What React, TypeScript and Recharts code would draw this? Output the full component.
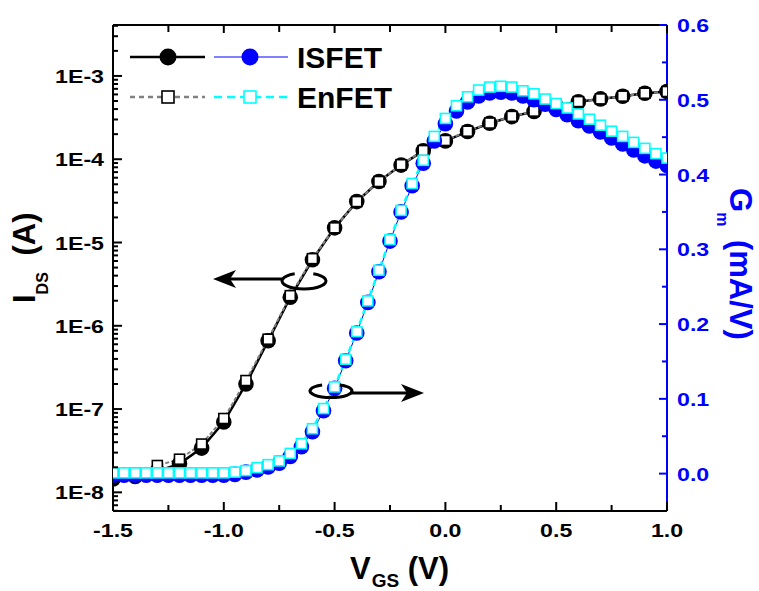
import React from 'react';
import { ComposedChart, Line, XAxis, YAxis } from 'recharts';

// I_DS sweep, 0.1 V step
const vgsIds = [
  -1.5, -1.4, -1.3, -1.2, -1.1, -1.0, -0.9, -0.8, -0.7, -0.6, -0.5, -0.4, -0.3,
  -0.2, -0.1, 0.0, 0.1, 0.2, 0.3, 0.4, 0.5, 0.6, 0.7, 0.8, 0.9, 1.0,
];
const idsIsfet = [
  1.45e-8, 1.55e-8, 1.8e-8, 2.2e-8, 3.4e-8, 7.0e-8, 2.0e-7, 6.6e-7, 2.2e-6, 6.2e-6,
  1.5e-5, 3.1e-5, 5.4e-5, 8.5e-5, 1.26e-4, 1.66e-4, 2.15e-4, 2.7e-4, 3.25e-4, 3.75e-4,
  4.35e-4, 4.9e-4, 5.3e-4, 5.7e-4, 6.2e-4, 6.5e-4,
];
const idsEnfet = [
  1.6e-8, 1.7e-8, 2.1e-8, 2.5e-8, 3.8e-8, 7.7e-8, 2.2e-7, 6.9e-7, 2.3e-6, 6.4e-6,
  1.5e-5, 3.1e-5, 5.4e-5, 8.6e-5, 1.27e-4, 1.68e-4, 2.17e-4, 2.72e-4, 3.27e-4, 3.78e-4,
  4.35e-4, 4.92e-4, 5.3e-4, 5.72e-4, 6.2e-4, 6.5e-4,
];

// Gm sweep, 0.05 V step
const vgsGm = [
  -1.5, -1.45, -1.4, -1.35, -1.3, -1.25, -1.2, -1.15, -1.1, -1.05, -1.0, -0.95, -0.9,
  -0.85, -0.8, -0.75, -0.7, -0.65, -0.6, -0.55, -0.5, -0.45, -0.4, -0.35, -0.3, -0.25,
  -0.2, -0.15, -0.1, -0.05, 0.0, 0.05, 0.1, 0.15, 0.2, 0.25, 0.3, 0.35, 0.4, 0.45, 0.5,
  0.55, 0.6, 0.65, 0.7, 0.75, 0.8, 0.85, 0.9, 0.95, 1.0,
];
const gmIsfet = [
  -0.002, -0.002, -0.002, -0.002, -0.002, -0.002, -0.002, -0.002, -0.002, -0.002, -0.002,
  -0.001, 0.002, 0.005, 0.009, 0.014, 0.023, 0.036, 0.056, 0.084, 0.114, 0.151, 0.188,
  0.229, 0.27, 0.311, 0.35, 0.385, 0.415, 0.445, 0.468, 0.485, 0.497, 0.505, 0.509, 0.51,
  0.509, 0.505, 0.5, 0.494, 0.487, 0.48, 0.472, 0.465, 0.457, 0.449, 0.441, 0.433, 0.425,
  0.418, 0.412,
];
const gmEnfet = [
  0.001, 0.001, 0.001, 0.001, 0.001, 0.001, 0.001, 0.001, 0.001, 0.001, 0.001,
  0.002, 0.004, 0.008, 0.012, 0.017, 0.027, 0.04, 0.06, 0.087, 0.116, 0.153, 0.19,
  0.231, 0.272, 0.313, 0.352, 0.388, 0.419, 0.451, 0.475, 0.492, 0.504, 0.513, 0.517,
  0.518, 0.517, 0.512, 0.508, 0.501, 0.495, 0.489, 0.481, 0.474, 0.466, 0.458, 0.451,
  0.443, 0.435, 0.428, 0.422,
];

// ticks
const xTicks = [-1.5, -1.25, -1.0, -0.75, -0.5, -0.25, 0.0, 0.25, 0.5, 0.75, 1.0];
const xTickLabels: Record<string, string> = {
  '-1.5': '-1.5', '-1': '-1.0', '-0.5': '-0.5', '0': '0.0', '0.5': '0.5', '1': '1.0',
};
const idsMajorTicks = [1e-8, 1e-7, 1e-6, 1e-5, 1e-4, 1e-3];
const idsTickLabels = ['1E-8', '1E-7', '1E-6', '1E-5', '1E-4', '1E-3'];
const gmTicks = [0, 0.05, 0.1, 0.15, 0.2, 0.25, 0.3, 0.35, 0.4, 0.45, 0.5, 0.55, 0.6];
const gmTickLabels = ['0.0', '0.1', '0.2', '0.3', '0.4', '0.5', '0.6'];

const idsDomain = [5.97e-9, 4.09e-3];
const gmDomain = [-0.05, 0.6];

const idsRows = vgsIds.map((v, i) => ({ v, isfet: idsIsfet[i], enfet: idsEnfet[i] }));
const gmRows = vgsGm.map((v, i) => ({ v, isfet: gmIsfet[i], enfet: gmEnfet[i] }));

// log minor ticks 2..9 for each decade inside the domain
const idsTicks: number[] = [];
for (let e = -9; e <= -3; e++) {
  for (let m = 1; m <= 9; m++) {
    const t = m * Math.pow(10, e);
    if (t >= idsDomain[0] && t <= idsDomain[1]) idsTicks.push(t);
  }
}

const BLUE = '#0000FF';
const CYAN = '#00FFFF';
const FONT = '"Liberation Sans", Arial, sans-serif';
const tickFont = { fontFamily: FONT, fontWeight: 700, fontSize: 19 };

const LeftTick = (props: any) => {
  const { x, y, payload } = props;
  const v = payload.value;
  const idx = idsMajorTicks.findIndex((t) => Math.abs(t - v) / t < 1e-6);
  const major = idx >= 0;
  return (
    <g>
      <line x1={x} x2={x + (major ? 9 : 5)} y1={y} y2={y} stroke="#000" strokeWidth={2} />
      {major && (
        <text transform={`translate(${x - 9} ${y + 7}) scale(1.22 1)`} textAnchor="end" fill="#000" style={tickFont}>
          {idsTickLabels[idx]}
        </text>
      )}
    </g>
  );
};

const RightTick = (props: any) => {
  const { x, y, payload } = props;
  const v = payload.value;
  const major = Math.abs(v * 10 - Math.round(v * 10)) < 1e-6;
  return (
    <g>
      <line x1={x} x2={x - (major ? 8 : 5)} y1={y} y2={y} stroke={BLUE} strokeWidth={2} />
      {major && (
        <text transform={`translate(${x + 10} ${y + 7}) scale(1.22 1)`} textAnchor="start" fill={BLUE} style={tickFont}>
          {gmTickLabels[Math.round(v * 10)]}
        </text>
      )}
    </g>
  );
};

const BottomTick = (props: any) => {
  const { x, y, payload } = props;
  const v = payload.value;
  const label = xTickLabels[String(v)];
  return (
    <g>
      <line x1={x} x2={x} y1={y} y2={y - (label ? 9 : 6)} stroke="#000" strokeWidth={2} />
      {label && (
        <text transform={`translate(${x} ${y + 26}) scale(1.22 1)`} textAnchor="middle" fill="#000" style={tickFont}>
          {label}
        </text>
      )}
    </g>
  );
};

const TopTick = (props: any) => {
  const { x, y, payload } = props;
  const major = Math.abs(payload.value * 2 - Math.round(payload.value * 2)) < 1e-6;
  return <line x1={x} x2={x} y1={y} y2={y + (major ? 8 : 7)} stroke="#000" strokeWidth={2} />;
};

const circleDot = (fill: string, r: number) => (p: any) =>
  p.cx == null || p.cy == null ? <g key={p.index} /> : <circle key={p.index} cx={p.cx} cy={p.cy} r={r} fill={fill} />;

const squareDot = (stroke: string, s: number) => (p: any) =>
  p.cx == null || p.cy == null ? <g key={p.index} /> : (
    <rect key={p.index} x={p.cx - s / 2} y={p.cy - s / 2} width={s} height={s} fill="#fff" stroke={stroke} strokeWidth={1.6} />
  );

// open ellipse (ring seen in perspective): gap at the top where the curve passes
const ringPath = (cx: number, cy: number, rx: number, ry: number) => {
  const a1 = (-115 * Math.PI) / 180;
  const a2 = (-65 * Math.PI) / 180;
  const x1 = cx + rx * Math.cos(a1);
  const y1 = cy + ry * Math.sin(a1);
  const x2 = cx + rx * Math.cos(a2);
  const y2 = cy + ry * Math.sin(a2);
  return `M${x1},${y1} A${rx},${ry} 0 1 0 ${x2},${y2}`;
};

const Overlay = () => (
  <svg width={759} height={591} style={{ position: 'absolute', left: 0, top: 0, pointerEvents: 'none' }}>
    {/* legend */}
    <line x1={130} x2={205} y1={57} y2={57} stroke="#000" strokeWidth={2.5} />
    <circle cx={168} cy={57} r={8.5} fill="#000" />
    <line x1={214} x2={288} y1={57} y2={57} stroke={BLUE} strokeWidth={1.2} />
    <circle cx={250} cy={57} r={8.5} fill={BLUE} />
    <text x={297} y={68} style={{ fontFamily: FONT, fontWeight: 700, fontSize: 30 }}>ISFET</text>
    <line x1={130} x2={205} y1={97} y2={97} stroke="#808080" strokeWidth={2.5} strokeDasharray="5 4" />
    <rect x={162} y={91} width={12} height={12} fill="#fff" stroke="#000" strokeWidth={1.6} />
    <line x1={214} x2={288} y1={97} y2={97} stroke={CYAN} strokeWidth={2.5} strokeDasharray="8 5" />
    <rect x={244} y={91} width={12} height={12} fill="#fff" stroke={CYAN} strokeWidth={1.6} />
    <text x={297} y={108} style={{ fontFamily: FONT, fontWeight: 700, fontSize: 30 }}>EnFET</text>

    {/* annotation: I_DS belongs to the left axis */}
    <path d={ringPath(304, 281, 22, 8)} fill="none" stroke="#000" strokeWidth={3} />
    <line x1={282} x2={222} y1={279} y2={279} stroke="#000" strokeWidth={3} />
    <path d="M213,279 L236,270 L230,279 L236,288 Z" fill="#000" />
    {/* annotation: Gm belongs to the right axis */}
    <path d={ringPath(331, 391, 21, 6.5)} fill="none" stroke="#000" strokeWidth={3} />
    <line x1={350} x2={415} y1={393} y2={393} stroke="#000" strokeWidth={3} />
    <path d="M424,393 L401,384 L407,393 L401,402 Z" fill="#000" />

    {/* axis titles */}
    <text transform="translate(35 303) rotate(-90)" textAnchor="start" style={{ fontFamily: FONT, fontWeight: 700, fontSize: 31 }}>
      I<tspan fontSize={16} dy={13}>DS</tspan>
      <tspan dy={-13} dx={8}> (A)</tspan>
    </text>
    <text transform="translate(730 188) rotate(90)" textAnchor="start" fill={BLUE} style={{ fontFamily: FONT, fontWeight: 700, fontSize: 31 }}>
      G<tspan fontSize={16} dy={13}>m</tspan>
      <tspan dy={-13} dx={5}> (mA/V)</tspan>
    </text>
    <text x={350} y={579} textAnchor="start" style={{ fontFamily: FONT, fontWeight: 700, fontSize: 31 }}>
      V<tspan fontSize={19} dx={1} dy={8}>GS</tspan>
      <tspan dy={-8}> (V)</tspan>
    </text>
  </svg>
);

export default function App() {
  return (
    <div style={{ position: 'absolute', left: 0, top: 0, width: 759, height: 591, background: '#fff' }}>
      <ComposedChart width={759} height={591} margin={{ top: 20, right: 12, bottom: 0, left: 13 }}>
        <XAxis
          dataKey="v"
          type="number"
          domain={[-1.5, 1]}
          ticks={xTicks}
          interval={0}
          height={80}
          tickSize={0}
          tickMargin={0}
          tickLine={false}
          axisLine={{ stroke: '#000', strokeWidth: 2 }}
          tick={<BottomTick />}
          allowDataOverflow
        />
        <XAxis
          xAxisId="top"
          orientation="top"
          dataKey="v"
          type="number"
          domain={[-1.5, 1]}
          ticks={xTicks}
          interval={0}
          height={5}
          tickSize={0}
          tickMargin={0}
          tickLine={false}
          axisLine={{ stroke: '#000', strokeWidth: 2 }}
          tick={<TopTick />}
          allowDataOverflow
        />
        <YAxis
          yAxisId="ids"
          scale="log"
          type="number"
          domain={idsDomain}
          ticks={idsTicks}
          interval={0}
          width={100}
          tickSize={0}
          tickMargin={0}
          tickLine={false}
          axisLine={{ stroke: '#000', strokeWidth: 2 }}
          tick={<LeftTick />}
          allowDataOverflow
        />
        <YAxis
          yAxisId="gm"
          orientation="right"
          type="number"
          domain={gmDomain}
          ticks={gmTicks}
          interval={0}
          width={80}
          tickSize={0}
          tickMargin={0}
          tickLine={false}
          axisLine={{ stroke: BLUE, strokeWidth: 2 }}
          tick={<RightTick />}
          allowDataOverflow
        />
        <Line
          yAxisId="ids"
          data={idsRows}
          dataKey="isfet"
          stroke="#000"
          strokeWidth={2.5}
          dot={circleDot('#000', 7.8)}
          activeDot={false}
          isAnimationActive={false}
        />
        <Line
          yAxisId="ids"
          data={idsRows}
          dataKey="enfet"
          stroke="#808080"
          strokeWidth={2}
          strokeDasharray="4 2"
          dot={squareDot('#000', 10)}
          activeDot={false}
          isAnimationActive={false}
        />
        <Line
          yAxisId="gm"
          data={gmRows}
          dataKey="isfet"
          stroke={BLUE}
          strokeWidth={1}
          dot={circleDot(BLUE, 7.8)}
          activeDot={false}
          isAnimationActive={false}
        />
        <Line
          yAxisId="gm"
          data={gmRows}
          dataKey="enfet"
          stroke={CYAN}
          strokeWidth={2.5}
          strokeDasharray="6 4"
          dot={squareDot(CYAN, 10)}
          activeDot={false}
          isAnimationActive={false}
        />
      </ComposedChart>
      <Overlay />
    </div>
  );
}
